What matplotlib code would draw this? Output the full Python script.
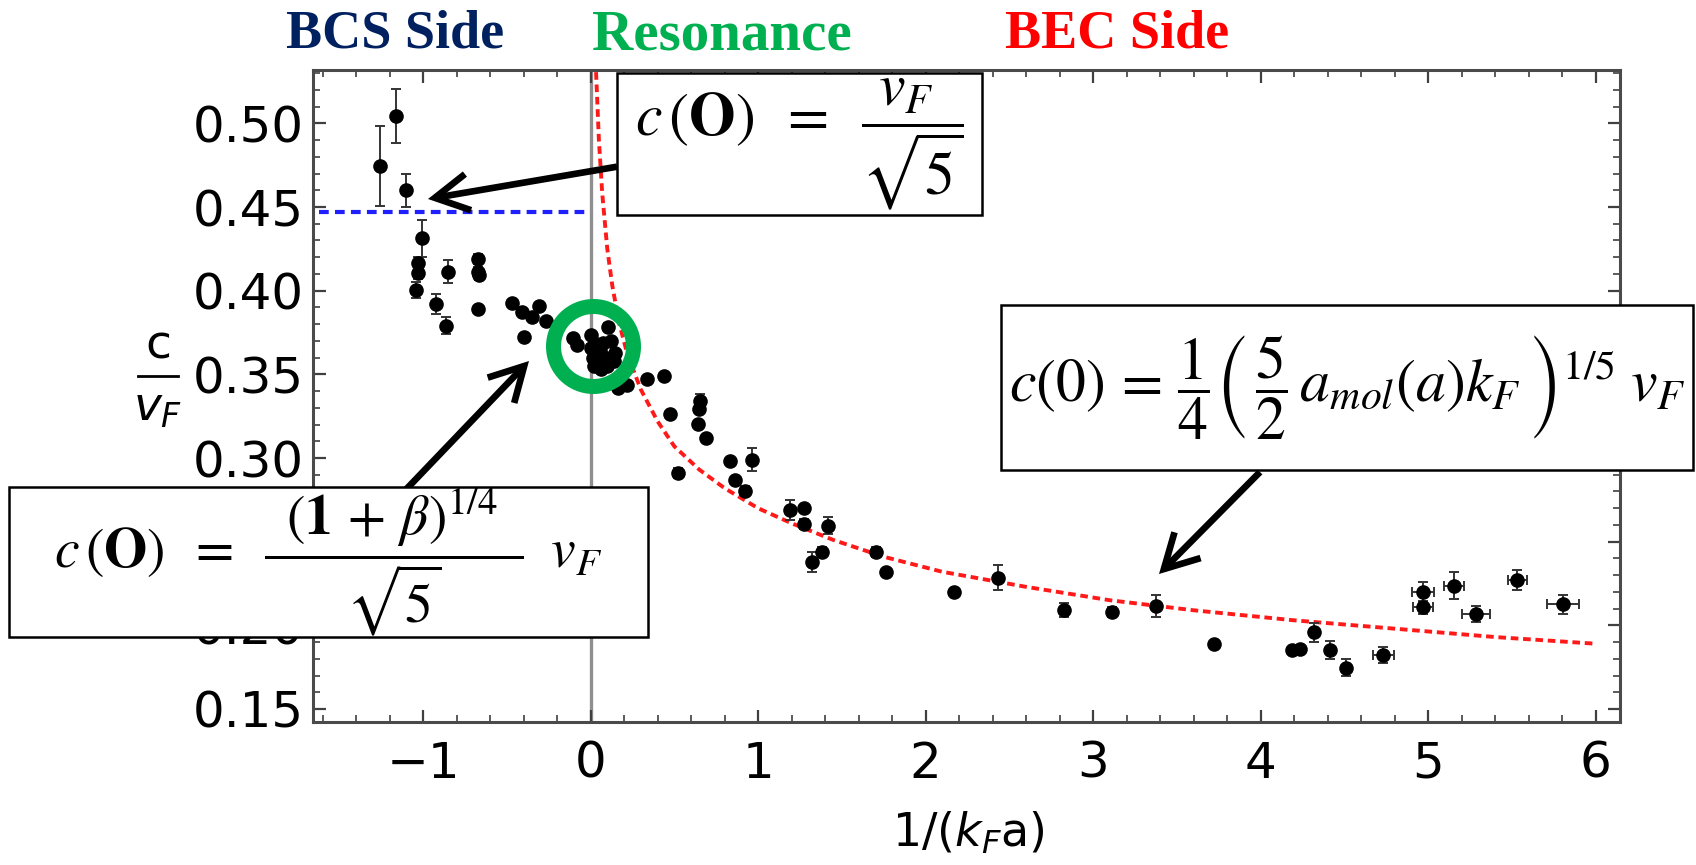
import matplotlib
matplotlib.use('Agg')
import matplotlib.pyplot as plt
from matplotlib.patches import Rectangle
from matplotlib.lines import Line2D
from matplotlib.ticker import MultipleLocator, FixedLocator, FixedFormatter

plt.rcParams['lines.scale_dashes'] = False

# ---------------- data ----------------
inv_kfa = [-1.257, -1.161, -1.101, -1.004, -1.028, -1.032, -1.044, -0.853, -0.924, -0.863,
           -0.670, -0.672, -0.668, -0.670, -0.470, -0.411, -0.351, -0.306, -0.266, -0.395,
           -0.103, -0.083,
           0.005, 0.005, 0.015, 0.035, 0.055, 0.075, 0.105, 0.125, 0.145, 0.140,
           0.100, 0.065, 0.020, 0.045, 0.090, 0.030,
           0.166, 0.216, 0.339, 0.439, 0.475, 0.520, 0.655, 0.645, 0.640, 0.690,
           0.833, 0.966, 0.865, 0.925, 1.189, 1.275, 1.275, 1.415, 1.382, 1.324,
           1.703, 1.762, 2.170, 2.431, 2.827, 3.115, 3.376, 3.722,
           4.186, 4.236, 4.319, 4.415, 4.510, 4.733,
           4.968, 4.972, 5.155, 5.285, 5.533, 5.808]
c_over_vf = [0.4745, 0.5044, 0.4600, 0.4313, 0.4163, 0.4107, 0.4004, 0.4113, 0.3920, 0.3790,
             0.4187, 0.4110, 0.4095, 0.3889, 0.3924, 0.3874, 0.3844, 0.3908, 0.3819, 0.3721,
             0.3715, 0.3675,
             0.3735, 0.3660, 0.3600, 0.3560, 0.3640, 0.3690, 0.3785, 0.3700, 0.3630, 0.3580,
             0.3550, 0.3530, 0.3550, 0.3620, 0.3600, 0.3680,
             0.3416, 0.3436, 0.3470, 0.3490, 0.3263, 0.2912, 0.3340, 0.3290, 0.3203, 0.3122,
             0.2980, 0.2990, 0.2870, 0.2800, 0.2690, 0.2704, 0.2603, 0.2595, 0.2440, 0.2380,
             0.2436, 0.2320, 0.2201, 0.2284, 0.2092, 0.2082, 0.2116, 0.1888,
             0.1853, 0.1857, 0.1958, 0.1853, 0.1747, 0.1823,
             0.2201, 0.2108, 0.2237, 0.2068, 0.2271, 0.2127]
c_err = [0.024, 0.016, 0.010, 0.011, 0.004, 0.004, 0.005, 0.007, 0.006, 0.005,
         0.003, 0.003, 0.003, 0.0, 0.0, 0.0, 0.0, 0.0, 0.0, 0.0,
         0.0, 0.0,
         0.002, 0.002, 0.002, 0.002, 0.002, 0.002, 0.002, 0.002, 0.002, 0.002,
         0.002, 0.002, 0.002, 0.002, 0.002, 0.002,
         0.0, 0.0, 0.0, 0.0, 0.0, 0.003, 0.004, 0.0, 0.0, 0.0,
         0.0, 0.007, 0.0, 0.003, 0.006, 0.0, 0.003, 0.005, 0.003, 0.006,
         0.003, 0.0, 0.0, 0.0074, 0.004, 0.003, 0.0067, 0.0,
         0.0, 0.0, 0.0055, 0.0055, 0.005, 0.005,
         0.006, 0.004, 0.008, 0.005, 0.006, 0.0057]
x_err = [0.0] * 71 + [0.062, 0.065, 0.060, 0.057, 0.083, 0.055, 0.095]

# BEC-side theory curve
curve_x = [0.03, 0.05, 0.07, 0.10, 0.13, 0.17, 0.22, 0.30, 0.40, 0.50, 0.65, 0.80,
           1.00, 1.20, 1.45, 1.75, 2.10, 2.60, 3.10, 3.60, 4.20, 4.80, 5.40, 6.00]
curve_y = [0.538, 0.490, 0.458, 0.425, 0.403, 0.381, 0.362, 0.341, 0.322, 0.307, 0.293, 0.282,
           0.270, 0.261, 0.251, 0.241, 0.232, 0.223, 0.215, 0.209, 0.203, 0.198, 0.193, 0.189]

# BCS limit c = vF/sqrt(5)
bcs_x = [-1.62, -0.03]
bcs_y = [0.447, 0.447]

# resonance highlight position
res_x, res_y = 0.013, 0.367

x_ticks = [-1, 0, 1, 2, 3, 4, 5, 6]
x_tick_labels = ['\u22121', '0', '1', '2', '3', '4', '5', '6']
y_ticks = [0.15, 0.20, 0.25, 0.30, 0.35, 0.40, 0.45, 0.50]
y_tick_labels = ['0.15', '0.20', '0.25', '0.30', '0.35', '0.40', '0.45', '0.50']

# ---------------- figure ----------------
W, H = 1696, 865
fig = plt.figure(figsize=(W / 100, H / 100), dpi=100)
fig.patch.set_facecolor('white')

ax_l, ax_r, ax_t, ax_b = 313.3, 1620.0, 70.0, 721.7
ax = fig.add_axes([ax_l / W, 1 - ax_b / H, (ax_r - ax_l) / W, (ax_b - ax_t) / H])
ax.set_xlim(-1.655, 6.146)
ax.set_ylim(0.1424, 0.5319)

for s in ax.spines.values():
    s.set_linewidth(2.2)
    s.set_color('#4a4a4a')

ax.xaxis.set_major_locator(FixedLocator(x_ticks))
ax.xaxis.set_major_formatter(FixedFormatter(x_tick_labels))
ax.yaxis.set_major_locator(FixedLocator(y_ticks))
ax.yaxis.set_major_formatter(FixedFormatter(y_tick_labels))
ax.xaxis.set_minor_locator(MultipleLocator(0.2))
ax.yaxis.set_minor_locator(MultipleLocator(0.01))
ax.tick_params(which='both', direction='in', top=True, right=True, color='#404040')
ax.tick_params(which='major', length=9, width=1.6)
ax.tick_params(which='minor', length=5, width=1.2)
ax.tick_params(axis='x', which='major', pad=13, labelsize=36)
ax.tick_params(axis='y', which='major', pad=7, labelsize=36)
for lab in ax.get_xticklabels() + ax.get_yticklabels():
    lab.set_family('DejaVu Sans')

ax.axvline(0, color='#8f8f8f', lw=2.4, zorder=1)
ax.plot(bcs_x, bcs_y, color='#1f1fff', lw=3.0, dashes=(7.0, 4.5), zorder=2)
ax.plot(curve_x, curve_y, color='#ff1a1a', lw=2.8, dashes=(5.5, 3.4), zorder=2)

ax.errorbar(inv_kfa, c_over_vf, yerr=c_err, xerr=x_err, fmt='o', color='black',
            ms=9.5, ecolor='#333333', elinewidth=1.4, capsize=3.5, capthick=1.4, zorder=3)

ax.plot([res_x], [res_y], 'o', ms=57.6, mfc='none', mec='#00b050', mew=10.8,
        zorder=4, clip_on=False)

# axis labels
fig.text(968 / W, 1 - 833 / H, r'1/($k_F$a)', ha='center', va='center', fontsize=33,
         family='DejaVu Sans', math_fontfamily='dejavusans')
# y label: stacked fraction c / v_F
fig.text(158 / W, 1 - 346 / H, 'c', ha='center', va='center', fontsize=34,
         family='DejaVu Sans')
fig.add_artist(Line2D([138 / W, 178 / W], [1 - 376 / H, 1 - 376 / H],
                      transform=fig.transFigure, color='black', lw=2.0))
fig.text(158 / W, 1 - 408 / H, r'$v_F$', ha='center', va='center', fontsize=34,
         math_fontfamily='dejavusans')

# side headings
fig.text(395 / W, 1 - 47 / H, 'BCS Side', ha='center', va='baseline', fontsize=39,
         family='Liberation Serif', weight='bold', color='#002060')
fig.text(722 / W, 1 - 50 / H, 'Resonance', ha='center', va='baseline', fontsize=41,
         family='Liberation Serif', weight='bold', color='#00b050')
fig.text(1117 / W, 1 - 47 / H, 'BEC Side', ha='center', va='baseline', fontsize=39,
         family='Liberation Serif', weight='bold', color='#ff0000')

# arrows (figure pixel coordinates)
arrow_kw = dict(arrowstyle='->,head_length=1.1,head_width=0.6', lw=4.8, color='black',
                mutation_scale=22, shrinkA=0, shrinkB=0, joinstyle='miter',
                capstyle='butt')
for (tx, ty), (hx, hy) in [((617, 166.7), (428, 199.0)),
                           ((395, 501), (529, 361)),
                           ((1260, 472), (1159, 574))]:
    ax.annotate('', xy=(hx, H - hy), xycoords='figure pixels',
                xytext=(tx, H - ty), textcoords='figure pixels',
                arrowprops=arrow_kw, annotation_clip=False, zorder=5)

# formula boxes
def box(x0, y0, x1, y1, txt, fs=40):
    fig.add_artist(Rectangle((x0 / W, 1 - y1 / H), (x1 - x0) / W, (y1 - y0) / H,
                             transform=fig.transFigure, facecolor='white',
                             edgecolor='black', lw=1.8, zorder=10))
    fig.text((x0 + x1) / 2 / W, 1 - (y0 + y1) / 2 / H, txt, ha='center', va='center',
             fontsize=fs, math_fontfamily='stix', zorder=11)

box(617, 73, 982, 215, r'$c\,(\mathbf{O})\;\;=\;\;\dfrac{\;v_F\;\;}{\sqrt{5}}$', fs=43)
box(9, 487, 648, 637,
    r'$c\,(\mathbf{O})\;\;=\;\;\dfrac{\;\;(\mathbf{1}\,+\,\beta)^{1/4}\;\;}{\sqrt{5}}\;\;v_F$', fs=40)
box(1001, 305, 1693, 470,
    r'$c(0)\,=\,\dfrac{1}{4}\left(\,\dfrac{5}{2}\,a_{mol}(a)k_F\,\right)^{1/5}\;v_F$', fs=43)

fig.savefig('out.png', dpi=100, facecolor='white')
